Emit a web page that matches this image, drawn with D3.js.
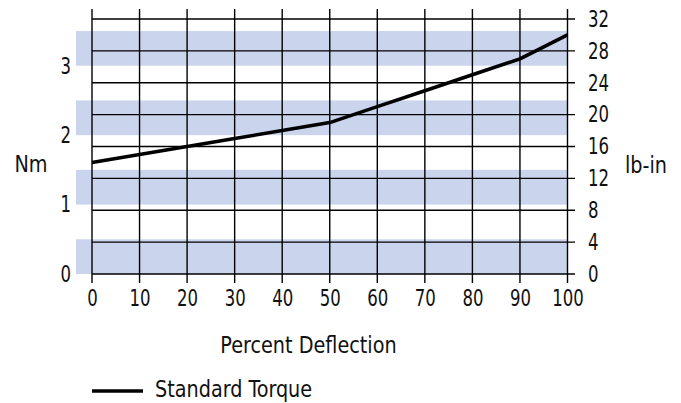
<!DOCTYPE html>
<html>
<head>
<meta charset="utf-8">
<script src="https://cdn.jsdelivr.net/npm/d3@7"></script>
<style>
  html, body { margin: 0; padding: 0; background: #fff; }
  svg text { font-family: 'Liberation Sans Narrow', 'Arial Narrow', 'DejaVu Sans Condensed', sans-serif; fill: #111; }
</style>
</head>
<body>
<svg id="chart" width="681" height="403"></svg>
<script>
// ---- data ----
const deflection = [0, 10, 20, 30, 40, 50, 60, 70, 80, 90, 100];
const torqueLbIn = [14, 15, 16, 17, 18, 19, 21, 23, 25, 27, 30];
const xTicks = [0, 10, 20, 30, 40, 50, 60, 70, 80, 90, 100];
const lbInTicks = [0, 4, 8, 12, 16, 20, 24, 28, 32];
const nmTicks = [0, 1, 2, 3];
const nmBands = [[0, 0.5], [1, 1.5], [2, 2.5], [3, 3.5]];
const seriesName = "Standard Torque";
const xTitle = "Percent Deflection";
const leftTitle = "Nm";
const rightTitle = "lb-in";

const svg = d3.select("#chart");
const x = d3.scaleLinear().domain([0, 100]).range([92, 567.5]);
const yLb = d3.scaleLinear().domain([0, 32]).range([274, 19]);
const yNm = d3.scaleLinear().domain([0, 3.5]).range([274, 31]);
const fs = 23;
const digitScale = 0.8;
const textScale = 0.93;

// bands
svg.append("g").selectAll("rect").data(nmBands).join("rect")
  .attr("x", 76).attr("width", x(100) - 76)
  .attr("y", d => yNm(d[1])).attr("height", d => yNm(d[0]) - yNm(d[1]))
  .attr("fill", "#cad4ec");

// horizontal grid (lb-in)
svg.append("g").selectAll("line").data(lbInTicks).join("line")
  .attr("x1", x(0)).attr("x2", 575)
  .attr("y1", d => yLb(d)).attr("y2", d => yLb(d))
  .attr("stroke", "#000").attr("stroke-width", 1.4);

// vertical grid
svg.append("g").selectAll("line").data(xTicks).join("line")
  .attr("x1", d => x(d)).attr("x2", d => x(d))
  .attr("y1", 9).attr("y2", 283)
  .attr("stroke", "#000").attr("stroke-width", 1.4);

// line
svg.append("path")
  .datum(deflection.map((d, i) => [d, torqueLbIn[i]]))
  .attr("fill", "none").attr("stroke", "#000").attr("stroke-width", 3.6)
  .attr("stroke-linejoin", "round")
  .attr("d", d3.line().x(d => x(d[0])).y(d => yLb(d[1])));

// axes (labels only)
const xAxis = svg.append("g").attr("transform", "translate(0,290)")
  .call(d3.axisBottom(x).tickValues(xTicks).tickSize(0).tickPadding(0).tickFormat(d3.format("d")));
const rAxis = svg.append("g").attr("transform", "translate(588,0)")
  .call(d3.axisRight(yLb).tickValues(lbInTicks).tickSize(0).tickPadding(0).tickFormat(d3.format("d")));
const lAxis = svg.append("g").attr("transform", "translate(71,0)")
  .call(d3.axisLeft(yNm).tickValues(nmTicks).tickSize(0).tickPadding(0).tickFormat(d3.format("d")));
[xAxis, rAxis, lAxis].forEach(g => {
  g.select(".domain").remove();
  g.attr("font-size", null).attr("font-family", null);
  g.selectAll("text").attr("font-size", fs).attr("fill", "#111")
    .attr("transform", `scale(${digitScale},1)`);
});

// titles
function title(px, py, anchor, txt) {
  svg.append("g").attr("transform", `translate(${px},${py}) scale(${textScale},1)`)
    .append("text").attr("text-anchor", anchor).attr("font-size", fs).text(txt);
}
title(31, 172, "middle", leftTitle);
title(625, 173, "start", rightTitle);
title(308.5, 353, "middle", xTitle);

// legend
svg.append("line").attr("x1", 92).attr("x2", 143).attr("y1", 391).attr("y2", 391)
  .attr("stroke", "#000").attr("stroke-width", 3.4);
title(155, 397, "start", seriesName);
</script>
</body>
</html>
